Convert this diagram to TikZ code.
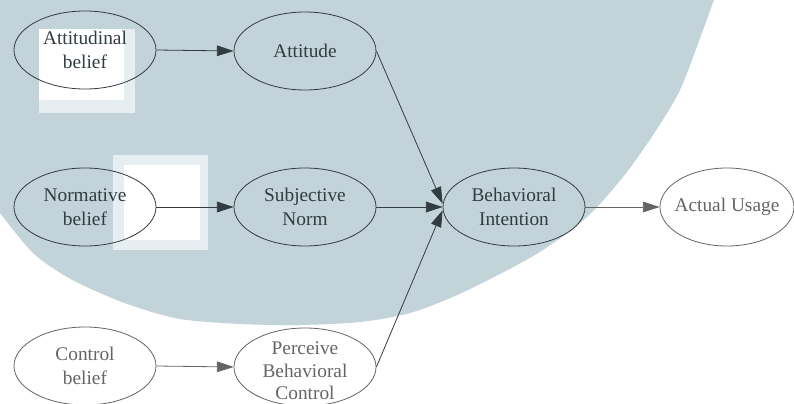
\documentclass[tikz,border=0pt]{standalone}
\usepackage{fontspec}
\setmainfont{Liberation Serif}
\usetikzlibrary{shapes.geometric,arrows.meta}
\definecolor{wm}{RGB}{194,211,218}
\definecolor{fadewhite}{RGB}{230,238,241}
\definecolor{inkdark}{RGB}{50,60,64}
\definecolor{inkgray}{RGB}{100,100,100}
\begin{document}
\begin{tikzpicture}[x=0.75pt,y=-0.75pt,
  ell/.style={draw=#1, ellipse, inner sep=0pt, minimum width=106.5pt, minimum height=58.5pt, line width=0.6pt},
  lbl/.style={text=#1, align=center, inner sep=0pt, font=\fontsize{14.5}{18}\selectfont},
  arr/.style={draw=#1, line width=0.6pt, -{Triangle[length=12.5pt,width=8pt]}}]
\useasboundingbox (0,0) rectangle (794,404);
% watermark background
\fill[wm] (-2,-2) -- (715,-2) -- plot[smooth, tension=0.5] coordinates {(714,0) (703,30) (680,90) (653,135) (623,177) (587,217) (543,250) (500,274) (455,296) (410,313) (360,322) (300,325) (240,324) (180,319) (133,306) (100,293) (67,277) (33,253) (0,213)} -- (-2,213) -- cycle;
\fill[fadewhite] (39,29) rectangle (135,113);
\fill[white] (39,29) rectangle (124,100);
\fill[fadewhite] (113,155) rectangle (208,250);
\fill[white] (124,165) rectangle (200,240);
% nodes
\node[ell=inkdark] (ab) at (85,50) {};
\node[lbl=inkdark] (abl) at (ab) {Attitudinal\\belief};
\node[ell=inkdark] (att) at (305,51) {};
\node[lbl=inkdark] (attl) at (att) {Attitude};
\node[ell=inkdark] (nb) at (85,207) {};
\node[lbl=inkdark] (nbl) at (nb) {Normative\\belief};
\node[ell=inkdark] (sn) at (305,207) {};
\node[lbl=inkdark] (snl) at (sn) {Subjective\\Norm};
\node[ell=inkgray] (cb) at (85,366) {};
\node[lbl=inkgray] (cbl) at (cb) {Control\\belief};
\node[ell=inkgray] (pbc) at (305,367) {};
\node[lbl=inkgray, font=\fontsize{14.5}{17}\selectfont] (pbcl) at (305,371) {Perceive\\Behavioral\\Control};
\node[ell=inkdark] (bi) at (514,207) {};
\node[lbl=inkdark] (bil) at (bi) {Behavioral\\Intention};
\node[ell=inkgray, minimum width=100.5pt] (au) at (727,207) {};
\node[lbl=inkgray] (aul) at (au) {Actual Usage};
% connectors
\draw[arr=inkdark] (ab.east) -- (att.west);
\draw[arr=inkdark] (nb.east) -- (sn.west);
\draw[arr=inkgray] (cb.east) -- (pbc.west);
\draw[arr=inkdark] (att.east) -- ([yshift=2.5pt]bi.west);
\draw[arr=inkdark] (sn.east) -- (bi.west);
\draw[arr=inkdark] (pbc.east) -- ([yshift=-2.5pt]bi.west);
\draw[arr=inkgray] (bi.east) -- (au.west);
\end{tikzpicture}
\end{document}
